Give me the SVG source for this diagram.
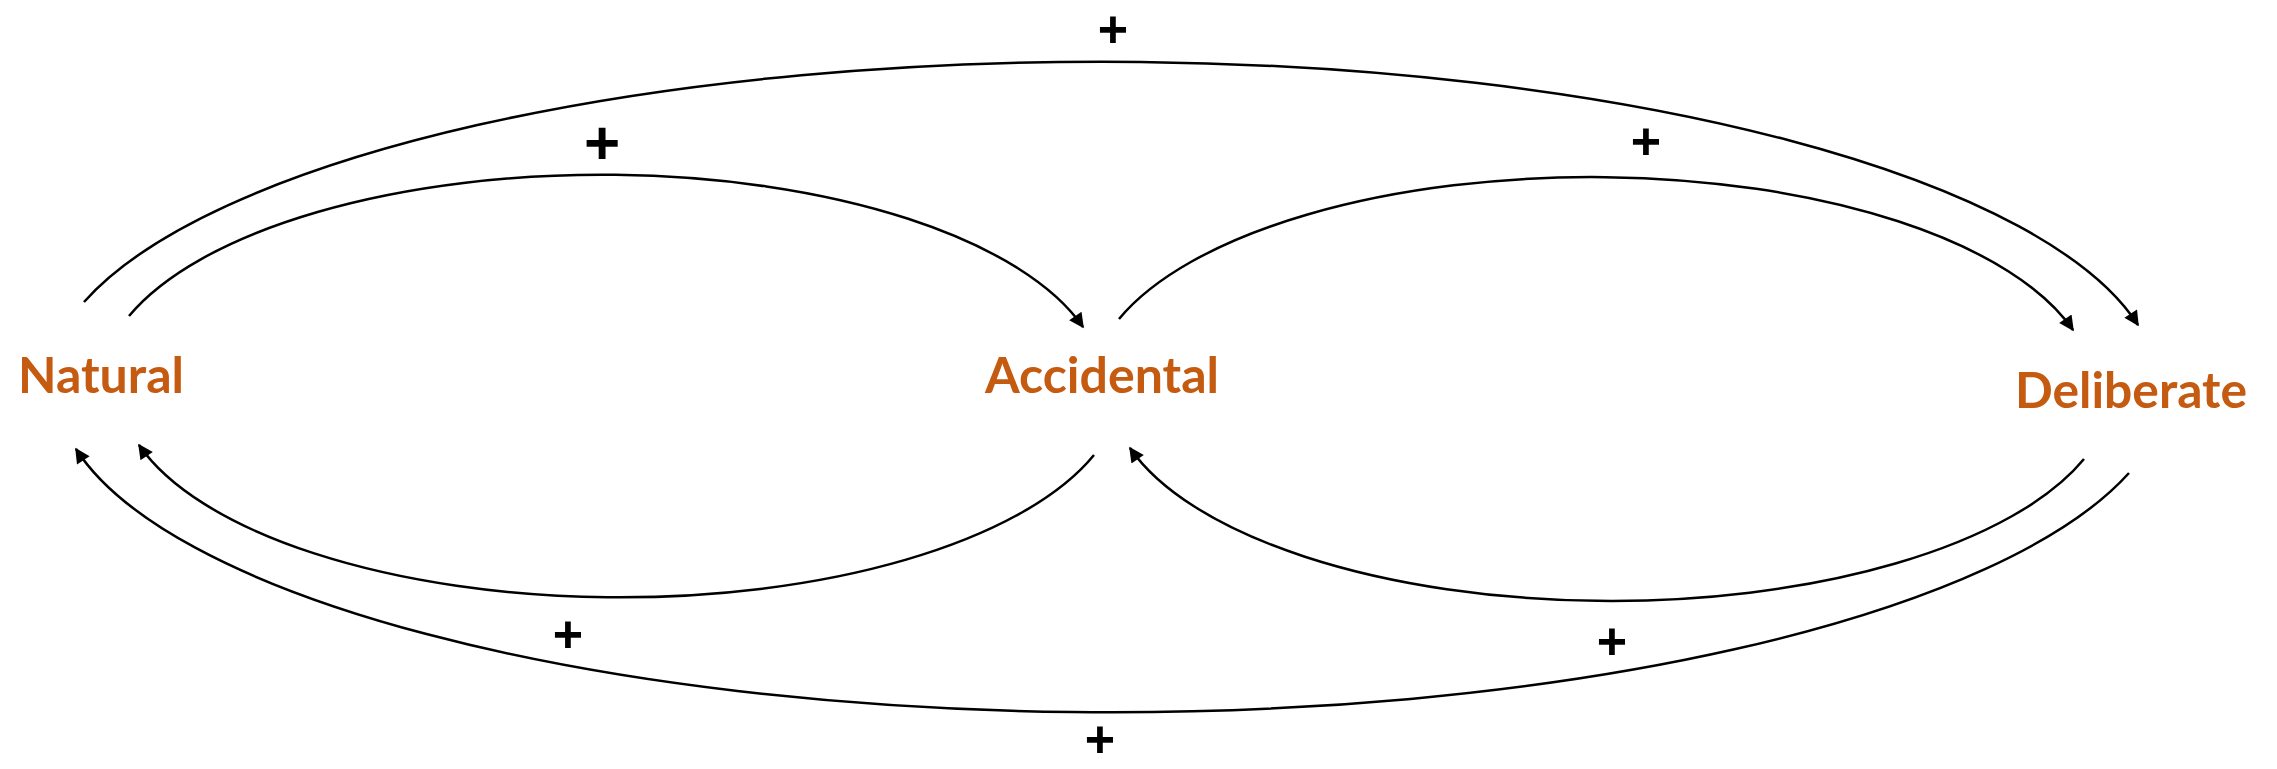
<svg xmlns="http://www.w3.org/2000/svg" width="2277" height="769" viewBox="0 0 2277 769">
  <style>
    .node { font-family: "Lato", "Liberation Sans", sans-serif; font-weight: bold; font-size: 49px; fill: #C55A11; }
    .conn { fill: none; stroke: #000; stroke-width: 2.5; marker-end: url(#arrow); }
    .plus { font-family: "Liberation Sans", Arial, sans-serif; font-weight: bold; font-size: 52px; fill: #000; text-anchor: middle; }
  </style>
  <defs>
    <marker id="arrow" viewBox="0 0 10 10" refX="9" refY="5" markerWidth="19" markerHeight="15" markerUnits="userSpaceOnUse" orient="auto">
      <path d="M0,0 L10,5 L0,10 z" fill="#000"/>
    </marker>
  </defs>
  <rect width="2277" height="769" fill="#fff"/>
  <g id="connectors">
    <path id="natural-deliberate" class="conn" d="M84,302 A1056,327 0 0 1 2138,325"/>
    <path id="natural-accidental" class="conn" d="M129,316 A501,211 0 0 1 1083,327"/>
    <path id="accidental-deliberate" class="conn" d="M1119,319 A501,212 0 0 1 2073,330"/>
    <path id="accidental-natural" class="conn" d="M1094,455 A501,211 0 0 1 139,445"/>
    <path id="deliberate-accidental" class="conn" d="M2084,459 A501,212 0 0 1 1130,448"/>
    <path id="deliberate-natural" class="conn" d="M2129,473 A1056,327 0 0 1 76,449"/>
  </g>
  <g id="connector-labels">
    <text class="plus" x="1113" y="47">+</text>
    <text class="plus" x="602" y="164" style="font-size:62px">+</text>
    <text class="plus" x="1646" y="159">+</text>
    <text class="plus" x="568" y="652">+</text>
    <text class="plus" x="1612" y="659">+</text>
    <text class="plus" x="1100" y="757">+</text>
  </g>
  <g id="node-natural">
    <text class="node" x="18" y="393" textLength="166" lengthAdjust="spacingAndGlyphs">Natural</text>
  </g>
  <g id="node-accidental">
    <text class="node" x="985" y="393" textLength="234" lengthAdjust="spacingAndGlyphs">Accidental</text>
  </g>
  <g id="node-deliberate">
    <text class="node" x="2015" y="408" textLength="232" lengthAdjust="spacingAndGlyphs">Deliberate</text>
  </g>
</svg>
